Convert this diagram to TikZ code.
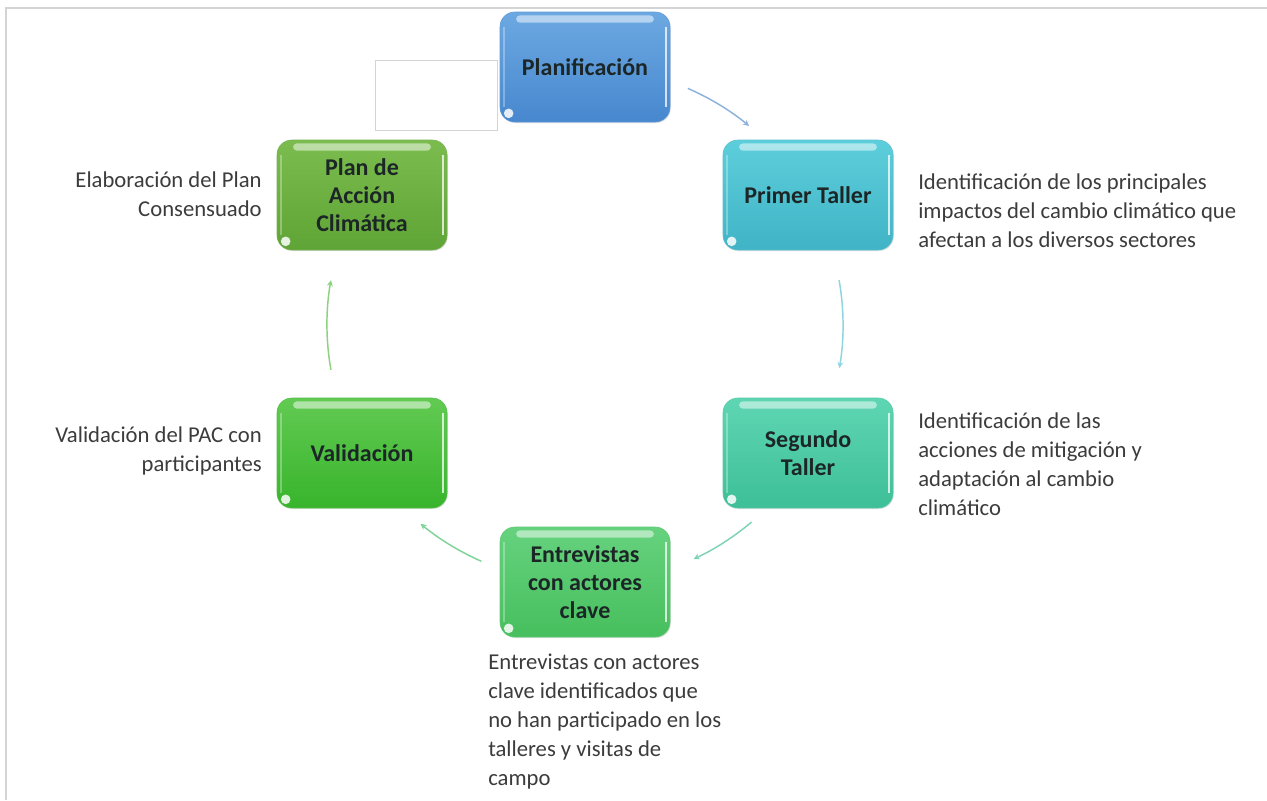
\documentclass[tikz,border=0pt]{standalone}
\usepackage{fontspec}
\setmainfont{Carlito}
\usetikzlibrary{arrows.meta,shadows}
\definecolor{framecol}{HTML}{D4D4D4}
\definecolor{desccol}{HTML}{3C3C3C}
\definecolor{boxtext}{HTML}{1C2626}
\definecolor{blueT}{HTML}{6CA9E2}\definecolor{blueB}{HTML}{4787CE}
\definecolor{cyanT}{HTML}{5DCEDB}\definecolor{cyanB}{HTML}{40B4C6}
\definecolor{tealT}{HTML}{5FD6B3}\definecolor{tealB}{HTML}{3DBF97}
\definecolor{grnT}{HTML}{66D27E}\definecolor{grnB}{HTML}{47BF5E}
\definecolor{valT}{HTML}{62CA52}\definecolor{valB}{HTML}{38B42C}
\definecolor{olvT}{HTML}{7CBC4E}\definecolor{olvB}{HTML}{5FA436}
\definecolor{arA}{HTML}{8DB3DD}
\definecolor{arB}{HTML}{8FD5DF}
\definecolor{arC}{HTML}{7ED3B6}
\definecolor{arD}{HTML}{80D39A}
\definecolor{arE}{HTML}{8DD27F}
\newcommand\boxfont{\fontsize{18}{21}\selectfont\bfseries}
\newcommand\descfont{\fontsize{17}{21.75}\selectfont}
\tikzset{
  stepbox/.style 2 args={rounded corners=11pt, minimum width=127.5pt, minimum height=82.5pt,
    top color=#1, bottom color=#2, draw=#2!85!white, line width=0.4pt,
    align=center, font=\boxfont, text=boxtext, inner sep=0pt,
    drop shadow={shadow xshift=0.6pt, shadow yshift=-0.8pt, opacity=0.22, fill=gray},
    path picture={
      \fill[white, opacity=0.5, rounded corners=3pt]
        ([shift={(12pt,-2.5pt)}]path picture bounding box.north west) rectangle
        ([shift={(-12pt,-8pt)}]path picture bounding box.north east);
      \draw[white, opacity=0.75, line width=1.4pt]
        ([shift={(-3.2pt,-11pt)}]path picture bounding box.north east) --
        ([shift={(-3.2pt,11pt)}]path picture bounding box.south east);
      \draw[white, opacity=0.3, line width=1.2pt]
        ([shift={(3pt,-11pt)}]path picture bounding box.north west) --
        ([shift={(3pt,11pt)}]path picture bounding box.south west);
      \fill[white, opacity=0.85]
        ([shift={(6.5pt,6.5pt)}]path picture bounding box.south west) circle (3.6pt);
    }},
  desc/.style={font=\descfont, text=desccol, inner sep=0pt},
  flow/.style={line width=1.1pt, -{Stealth[length=4.5pt,width=4.5pt]}},
  blank/.style={draw=framecol, line width=0.5pt, fill=white, minimum width=91.5pt, minimum height=52.5pt, inner sep=0pt}
}
\begin{document}
\begin{tikzpicture}[x=0.75pt,y=-0.75pt]
\useasboundingbox (0,0) rectangle (1267,800);
\fill[white] (0,0) rectangle (1267,800);
% frame
\draw[framecol, line width=1.5pt] (5.5,800) -- (5.5,8) -- (1267,8);

% empty box
\node[blank] (blankbox) at (436,95) {};

% boxes
\node[stepbox={blueT}{blueB}] (planif) at (585,67) {Planificación};
\node[stepbox={cyanT}{cyanB}] (primer) at (808,195) {Primer Taller};
\node[stepbox={tealT}{tealB}] (segundo) at (808,453) {Segundo\\Taller};
\node[stepbox={grnT}{grnB}] (entrev) at (585,582) {Entrevistas\\con actores\\clave};
\node[stepbox={valT}{valB}] (valid) at (362,453) {Validación};
\node[stepbox={olvT}{olvB}] (plan) at (362,195) {Plan de\\Acción\\Climática};

% descriptions
\node[desc, anchor=north west, align=left] (dprimer) at (918,173)
  {Identificación de los principales\\impactos del cambio climático que\\afectan a los diversos sectores};
\node[desc, anchor=north west, align=left] (dsegundo) at (918,412)
  {Identificación de las\\acciones de mitigación y\\adaptación al cambio\\climático};
\node[desc, anchor=north west, align=left] (dentrev) at (488,654)
  {Entrevistas con actores\\clave identificados que\\no han participado en los\\talleres y visitas de\\campo};
\node[desc, anchor=north east, align=right] (dvalid) at (262,426)
  {Validación del PAC con\\participantes};
\node[desc, anchor=north east, align=right] (dplan) at (262,171)
  {Elaboración del Plan\\Consensuado};

% cycle arrows (arcs of a circle around the centre)
\coordinate (ctr) at (585,325);
\path (ctr) ++(-66.5:258) coordinate (a1s);
\path (ctr) ++(-10:258) coordinate (a2s);
\path (ctr) ++(49.8:258) coordinate (a3s);
\path (ctr) ++(113.7:258) coordinate (a4s);
\path (ctr) ++(170:258) coordinate (a5s);
\draw[flow, arA] (a1s) arc[start angle=-66.5, end angle=-50.5, radius=258];
\draw[flow, arB] (a2s) arc[start angle=-10, end angle=9.6, radius=258];
\draw[flow, arC] (a3s) arc[start angle=49.8, end angle=65.1, radius=258];
\draw[flow, arD] (a4s) arc[start angle=113.7, end angle=129.6, radius=258];
\draw[flow, arE] (a5s) arc[start angle=170, end angle=190, radius=258];
\end{tikzpicture}
\end{document}
